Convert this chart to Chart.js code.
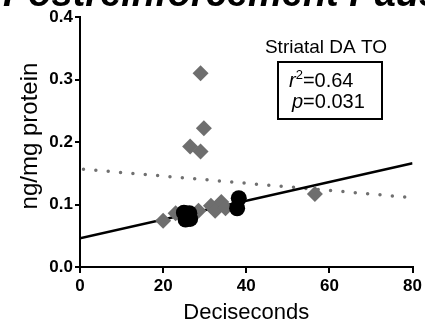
<!DOCTYPE html>
<html>
<head>
<meta charset="utf-8">
<script src="https://cdn.jsdelivr.net/npm/chart.js@4.4.0/dist/chart.umd.min.js"></script>
<style>
  html, body { margin: 0; padding: 0; background: #fff; }
  #wrap { width: 425px; height: 321px; }
</style>
</head>
<body>
<div id="wrap"><canvas id="myChart" width="425" height="321"></canvas></div>
<script>
// values
const grayX = [20, 23, 26.5, 28.5, 29, 29, 29.8, 31.5, 32.5, 34, 35, 56.5];
const grayY = [0.074, 0.086, 0.193, 0.090, 0.185, 0.310, 0.222, 0.098, 0.090, 0.104, 0.094, 0.117];
const blackX = [25, 26.3, 25.4, 26.5, 37.8, 38.2];
const blackY = [0.087, 0.086, 0.076, 0.077, 0.094, 0.110];
const fitX = [0, 80];
const blackFitY = [0.046, 0.166];
const grayFitY = [0.157, 0.111];
const xTicks = [0, 20, 40, 60, 80];
const yTicks = [0.0, 0.1, 0.2, 0.3, 0.4];

const FONT = '"Liberation Sans", Arial, sans-serif';

function toPoints(xs, ys) {
    return xs.map((x, i) => ({ x: x, y: ys[i] }));
}

// extra texts: cut-off heading, axis titles, stats box
const textPlugin = {
    id: 'texts',
    afterDraw(chart) {
        const ctx = chart.ctx;
        const area = chart.chartArea;
        ctx.save();
        ctx.fillStyle = '#000';
        ctx.textBaseline = 'alphabetic';

        ctx.font = 'italic bold 38px ' + FONT;
        ctx.textAlign = 'left';
        ctx.fillText('Postreinforcement Pause', 3, 6);

        ctx.font = '22px ' + FONT;
        ctx.textAlign = 'center';
        ctx.fillText('Deciseconds', (area.left + area.right) / 2, 319);

        ctx.save();
        ctx.translate(37, 136);
        ctx.rotate(-Math.PI / 2);
        ctx.font = '24px ' + FONT;
        ctx.fillText('ng/mg protein', 0, 0);
        ctx.restore();

        ctx.font = '19px ' + FONT;
        ctx.textAlign = 'center';
        ctx.fillText('Striatal DA TO', 326, 53);

        ctx.lineWidth = 2;
        ctx.strokeStyle = '#000';
        ctx.strokeRect(278, 62, 104, 57);

        ctx.textAlign = 'left';
        let x = 289;
        ctx.font = 'italic 20px ' + FONT;
        ctx.fillText('r', x, 87);
        x += ctx.measureText('r').width;
        ctx.font = '13px ' + FONT;
        ctx.fillText('2', x, 79);
        x += ctx.measureText('2').width;
        ctx.font = '20px ' + FONT;
        ctx.fillText('=0.64', x, 87);

        x = 292;
        ctx.font = 'italic 20px ' + FONT;
        ctx.fillText('p', x, 108);
        x += ctx.measureText('p').width;
        ctx.font = '20px ' + FONT;
        ctx.fillText('=0.031', x, 108);
        ctx.restore();
    }
};

const ctx = document.getElementById('myChart').getContext('2d');

new Chart(ctx, {
    type: 'scatter',
    data: {
        datasets: [
            {
                label: 'black',
                data: toPoints(blackX, blackY),
                pointStyle: 'circle',
                pointRadius: 8,
                backgroundColor: '#000',
                borderColor: '#000',
                borderWidth: 0
            },
            {
                label: 'gray',
                data: toPoints(grayX, grayY),
                pointStyle: 'rectRot',
                pointRadius: 8,
                backgroundColor: '#6e6e6e',
                borderColor: '#6e6e6e',
                borderWidth: 0
            },
            {
                label: 'black fit',
                data: toPoints(fitX, blackFitY),
                showLine: true,
                pointRadius: 0,
                borderColor: '#000',
                borderWidth: 2.5
            },
            {
                label: 'gray fit',
                data: toPoints(fitX, grayFitY),
                showLine: true,
                pointRadius: 0,
                borderColor: '#707070',
                borderWidth: 3.5,
                borderCapStyle: 'round',
                borderDash: [0, 12.4],
                borderDashOffset: -3.5
            }
        ]
    },
    options: {
        responsive: false,
        animation: false,
        devicePixelRatio: 1,
        layout: { padding: { top: 17, right: 10, left: 0, bottom: 0 } },
        plugins: {
            legend: { display: false },
            tooltip: { enabled: false }
        },
        scales: {
            x: {
                type: 'linear',
                min: 0,
                max: 80,
                afterBuildTicks: (s) => { s.ticks = xTicks.map(v => ({ value: v })); },
                afterFit: (s) => { s.height = 54; },
                grid: { display: true, drawOnChartArea: false, drawTicks: true, tickLength: 6, color: '#000', lineWidth: 2 },
                border: { display: true, color: '#000', width: 2 },
                ticks: {
                    color: '#000',
                    padding: 3,
                    maxRotation: 0,
                    font: { family: FONT, size: 17, weight: 'bold' }
                }
            },
            y: {
                type: 'linear',
                min: 0,
                max: 0.4,
                afterBuildTicks: (s) => { s.ticks = yTicks.map(v => ({ value: v })); },
                afterFit: (s) => { s.width = 80; },
                grid: { display: true, drawOnChartArea: false, drawTicks: true, tickLength: 5, color: '#000', lineWidth: 2 },
                border: { display: true, color: '#000', width: 2 },
                ticks: {
                    color: '#000',
                    padding: 2,
                    callback: (v) => Number(v).toFixed(1),
                    font: { family: FONT, size: 17, weight: 'bold' }
                }
            }
        }
    },
    plugins: [textPlugin]
});
</script>
</body>
</html>
